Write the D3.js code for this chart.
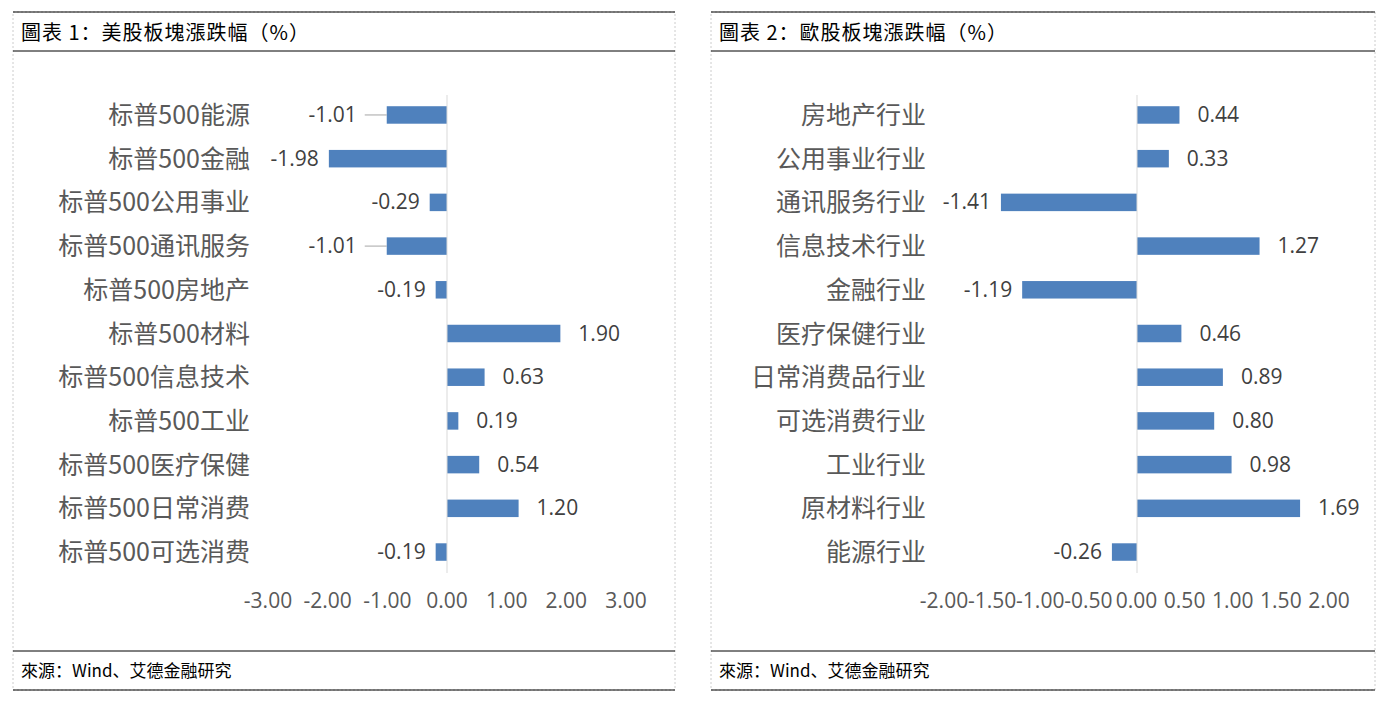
<!DOCTYPE html>
<html><head><meta charset="utf-8">
<script src="https://cdn.jsdelivr.net/npm/d3@7"></script>
<style>body{margin:0;background:#fff}</style>
</head><body>
<svg id="c" width="1386" height="703"></svg>
<script>
// 左图：美股板块
var usCats = ["标普500能源","标普500金融","标普500公用事业","标普500通讯服务","标普500房地产","标普500材料","标普500信息技术","标普500工业","标普500医疗保健","标普500日常消费","标普500可选消费"];
var usVals = [-1.01,-1.98,-0.29,-1.01,-0.19,1.90,0.63,0.19,0.54,1.20,-0.19];
var usLeader = [true,false,false,true,false,false,false,false,false,false,false];
var usTicks = ["-3.00","-2.00","-1.00","0.00","1.00","2.00","3.00"];
// 右图：欧股板块
var euCats = ["房地产行业","公用事业行业","通讯服务行业","信息技术行业","金融行业","医疗保健行业","日常消费品行业","可选消费行业","工业行业","原材料行业","能源行业"];
var euVals = [0.44,0.33,-1.41,1.27,-1.19,0.46,0.89,0.80,0.98,1.69,-0.26];
var euTicks = ["-2.00","-1.50","-1.00","-0.50","0.00","0.50","1.00","1.50","2.00"];

var svg = d3.select("#c");
var cjk = "'Noto Sans CJK SC', sans-serif";
var blue = "#4f81bd";

function panel(x0, x1, title) {
  var g = svg.append("g");
  g.append("rect").attr("x", x0).attr("y", 12).attr("width", x1 - x0).attr("height", 678)
    .attr("fill", "none").attr("stroke", "#ccc").attr("stroke-dasharray", "2,2");
  [12, 51, 651, 690].forEach(function (y) {
    g.append("line").attr("x1", x0).attr("x2", x1).attr("y1", y).attr("y2", y).attr("stroke", "#000");
  });
  g.append("text").attr("x", x0 + 8).attr("y", 40).text(title)
    .style("font-family", cjk).style("font-size", "20px").style("letter-spacing", "1px").attr("fill", "#000");
  g.append("text").attr("x", x0 + 8).attr("y", 677).text("來源：Wind、艾德金融研究")
    .style("font-family", cjk).style("font-size", "17px").attr("fill", "#000");
}
panel(13, 675, "圖表 1：美股板塊漲跌幅（%）");
panel(711, 1375, "圖表 2：歐股板塊漲跌幅（%）");

function chart(cats, vals, leader, ticks, xs, tickRange, labelX) {
  var y = d3.scaleBand().domain(cats).range([80, 587]).padding(0.6);
  var g = svg.append("g");
  var tx = d3.scalePoint().domain(ticks).range(tickRange);
  g.selectAll(".t").data(ticks).enter().append("text")
    .attr("x", d => tx(d)).attr("y", 608).attr("text-anchor", "middle")
    .text(d => d).style("font-family", "'Open Sans', sans-serif").style("font-size", "21px").attr("fill", "#595959");
  g.selectAll(".c").data(cats).enter().append("text")
    .attr("x", labelX).attr("y", d => y(d) + y.bandwidth() / 2 + 9).attr("text-anchor", "end")
    .text(d => d).style("font-family", cjk).style("font-size", "25px").attr("fill", "#595959");
  g.selectAll("rect").data(vals).enter().append("rect")
    .attr("x", d => xs(Math.min(0, d))).attr("y", (d, i) => y(cats[i]))
    .attr("width", d => Math.abs(xs(d) - xs(0))).attr("height", y.bandwidth()).attr("fill", blue);
  g.append("line").attr("x1", xs(0)).attr("x2", xs(0)).attr("y1", 95).attr("y2", 573).attr("stroke", "#d9d9d9");
  vals.forEach(function (d, i) {
    var cy = y(cats[i]) + y.bandwidth() / 2;
    var off = leader && leader[i] ? 30 : 10;
    var lx = d < 0 ? xs(d) - off : xs(d) + 18;
    g.append("text").attr("x", lx).attr("y", cy + 7).attr("text-anchor", d < 0 ? "end" : "start")
      .text(d.toFixed(2)).style("font-family", "'Open Sans', sans-serif").style("font-size", "21px").attr("fill", "#404040");
    if (leader && leader[i])
      g.append("line").attr("x1", xs(d) - 22).attr("x2", xs(d)).attr("y1", cy).attr("y2", cy).attr("stroke", "#a6a6a6");
  });
}
var xUs = d3.scaleLinear().domain([-3, 3]).range([268, 626]);
chart(usCats, usVals, usLeader, usTicks, xUs, [268, 626], 250);
var xEu = d3.scaleLinear().domain([0, 1]).range([1137, 1233.5]);
chart(euCats, euVals, null, euTicks, xEu, [944, 1329], 926);
</script>
</body></html>
